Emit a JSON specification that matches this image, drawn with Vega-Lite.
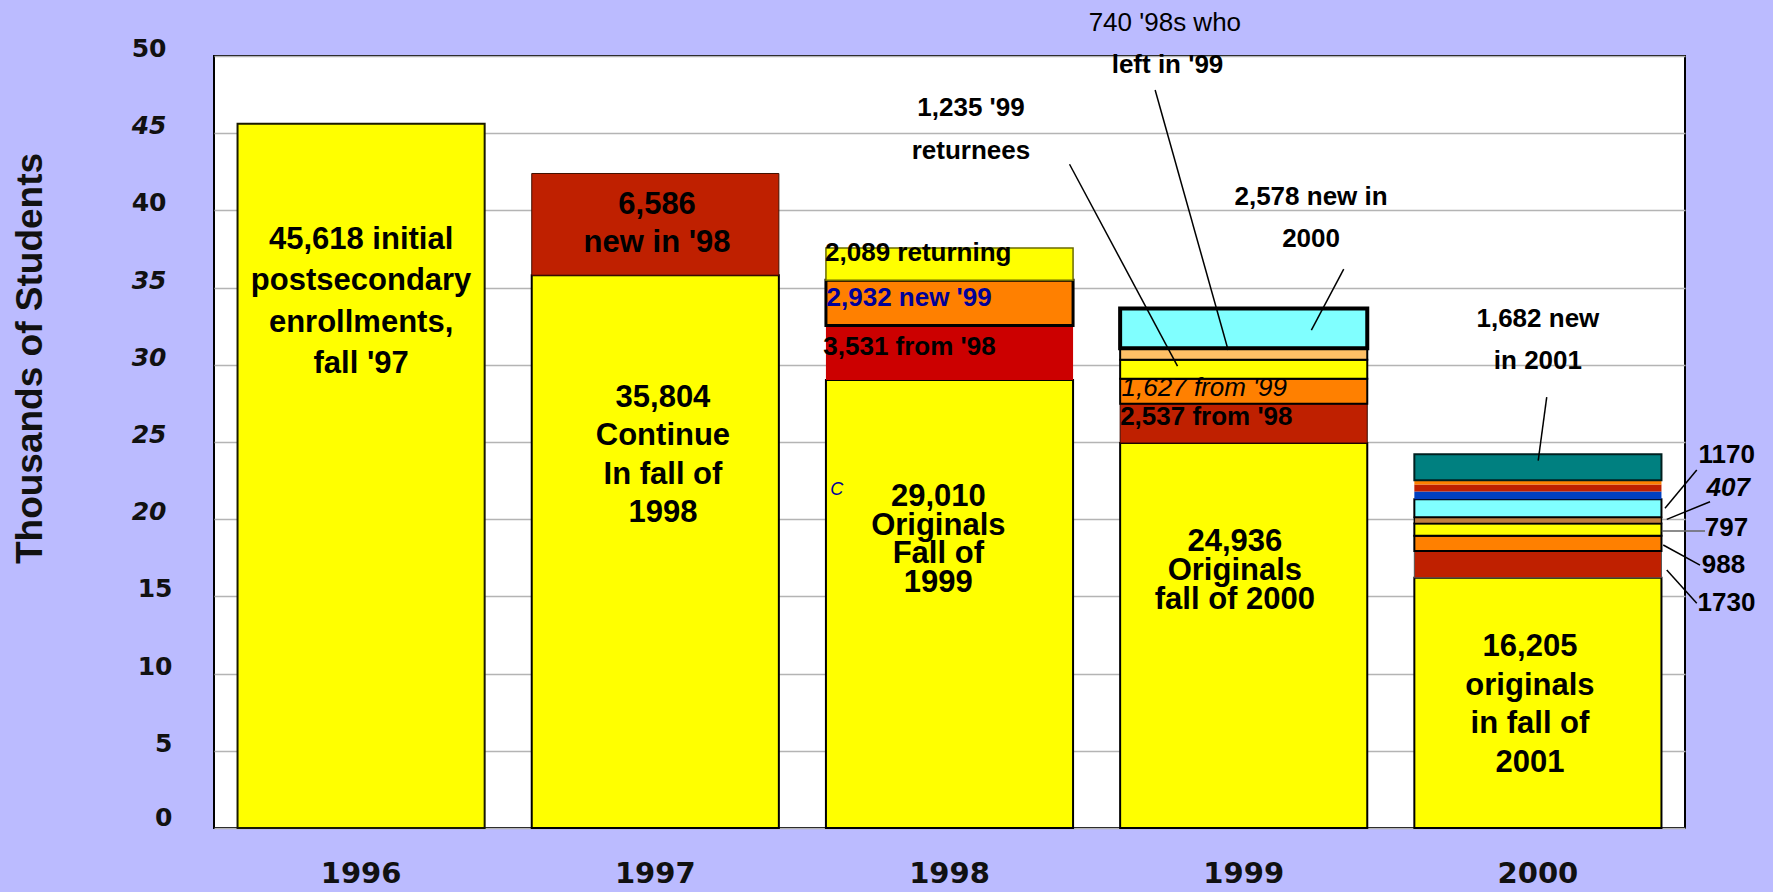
{
  "$schema": "https://vega.github.io/schema/vega-lite/v6.json",
  "width": 1471,
  "height": 772,
  "autosize": {"type": "none"},
  "padding": {"left": 214, "top": 56, "right": 88, "bottom": 64},
  "background": "#BBBBFF",
  "config": {
    "view": {"fill": "#FFFFFF", "stroke": "#000000", "strokeWidth": 2},
    "font": "Liberation Sans"
  },
  "resolve": {"scale": {"x": "independent"}, "axis": {"x": "independent", "y": "independent"}},
  "layer": [
    {
      "data": {
        "values": [
          {"year": "1996", "seq": 1, "segment": "1996: 45,618 initial enrollments", "value": 45.618},
          {"year": "1997", "seq": 1, "segment": "1997: 35,804 continuing", "value": 35.804},
          {"year": "1997", "seq": 2, "segment": "1997: 6,586 new in 1998", "value": 6.586},
          {"year": "1998", "seq": 1, "segment": "1998: 29,010 originals", "value": 29.01},
          {"year": "1998", "seq": 2, "segment": "1998: 3,531 from 1998", "value": 3.531},
          {"year": "1998", "seq": 3, "segment": "1998: 2,932 new in 1999", "value": 2.932},
          {"year": "1998", "seq": 4, "segment": "1998: 2,089 returning", "value": 2.089},
          {"year": "1999", "seq": 1, "segment": "1999: 24,936 originals", "value": 24.936},
          {"year": "1999", "seq": 2, "segment": "1999: 2,537 from 1998", "value": 2.537},
          {"year": "1999", "seq": 3, "segment": "1999: 1,627 from 1999", "value": 1.627},
          {"year": "1999", "seq": 4, "segment": "1999: 1,235 returnees of 1999", "value": 1.235},
          {"year": "1999", "seq": 5, "segment": "1999: 740 who left in 1999", "value": 0.74},
          {"year": "1999", "seq": 6, "segment": "1999: 2,578 new in 2000", "value": 2.578},
          {"year": "2000", "seq": 1, "segment": "2000: 16,205 originals", "value": 16.205},
          {"year": "2000", "seq": 2, "segment": "2000: 1,730", "value": 1.73},
          {"year": "2000", "seq": 3, "segment": "2000: 988", "value": 0.988},
          {"year": "2000", "seq": 4, "segment": "2000: 797", "value": 0.797},
          {"year": "2000", "seq": 5, "segment": "2000: 407", "value": 0.407},
          {"year": "2000", "seq": 6, "segment": "2000: 1,170", "value": 1.17},
          {"year": "2000", "seq": 7, "segment": "2000: unlabeled 1", "value": 0.5},
          {"year": "2000", "seq": 8, "segment": "2000: unlabeled 2", "value": 0.45},
          {"year": "2000", "seq": 9, "segment": "2000: unlabeled 3", "value": 0.27},
          {"year": "2000", "seq": 10, "segment": "2000: 1,682 new in 2001", "value": 1.682}
        ]
      },
      "mark": {"type": "bar"},
      "encoding": {
        "x": {
          "field": "year",
          "type": "ordinal",
          "scale": {"paddingInner": 0.16, "paddingOuter": 0.08},
          "axis": {
            "title": null,
            "labelAngle": 0,
            "labelFont": "DejaVu Sans",
            "labelFontSize": 29,
            "labelFontWeight": "bold",
            "labelColor": "#111111",
            "labelPadding": 31,
            "ticks": false,
            "tickSize": 0,
            "domain": false,
            "grid": false
          }
        },
        "y": {
          "field": "value",
          "type": "quantitative",
          "stack": "zero",
          "scale": {"domain": [0, 50], "nice": false},
          "axis": {
            "title": "Thousands of Students",
            "values": [0, 5, 10, 15, 20, 25, 30, 35, 40, 45, 50],
            "grid": true,
            "gridColor": "#B4B4B4",
            "gridWidth": 1.5,
            "domain": false,
            "ticks": false,
            "tickSize": 0,
            "labelFont": "DejaVu Sans",
            "labelFontSize": 25,
            "labelFontWeight": "bold",
            "labelColor": "#111111",
            "labelFontStyle": {"condition": {"test": "indexof([20, 25, 30, 35, 45], datum.value) >= 0", "value": "italic"}, "value": "normal"},
            "labelPadding": {"condition": {"test": "datum.value <= 15", "value": 42}, "value": 48},
            "labelOffset": {"condition": {"test": "datum.value == 0", "value": -11}, "value": -7.5},
            "labelBaseline": "middle",
            "labelFlush": false,
            "labelOverlap": false,
            "titleFont": "Liberation Sans",
            "titleFontSize": 37,
            "titleFontWeight": "bold",
            "titleColor": "#111111",
            "titleAngle": -90,
            "titleAlign": "center",
            "titleBaseline": "alphabetic",
            "titleX": -173,
            "titleY": 302
          }
        },
        "order": {"field": "seq", "type": "quantitative"},
        "fill": {
          "field": "segment",
          "type": "nominal",
          "legend": null,
          "scale": {
            "domain": ["1996: 45,618 initial enrollments", "1997: 35,804 continuing", "1997: 6,586 new in 1998", "1998: 29,010 originals", "1998: 3,531 from 1998", "1998: 2,932 new in 1999", "1998: 2,089 returning", "1999: 24,936 originals", "1999: 2,537 from 1998", "1999: 1,627 from 1999", "1999: 1,235 returnees of 1999", "1999: 740 who left in 1999", "1999: 2,578 new in 2000", "2000: 16,205 originals", "2000: 1,730", "2000: 988", "2000: 797", "2000: 407", "2000: 1,170", "2000: unlabeled 1", "2000: unlabeled 2", "2000: unlabeled 3", "2000: 1,682 new in 2001"],
            "range": ["#FFFF00", "#FFFF00", "#BF2000", "#FFFF00", "#CC0000", "#FF8000", "#FFFF00", "#FFFF00", "#BF2000", "#FF8000", "#FFFF00", "#FFC066", "#80FFFF", "#FFFF00", "#BF2000", "#FF8000", "#FFFF00", "#C08040", "#80FFFF", "#0040C0", "#BF2000", "#FF8000", "#008080"]
          }
        },
        "stroke": {
          "field": "segment",
          "type": "nominal",
          "legend": null,
          "scale": {
            "domain": ["1996: 45,618 initial enrollments", "1997: 35,804 continuing", "1997: 6,586 new in 1998", "1998: 29,010 originals", "1998: 3,531 from 1998", "1998: 2,932 new in 1999", "1998: 2,089 returning", "1999: 24,936 originals", "1999: 2,537 from 1998", "1999: 1,627 from 1999", "1999: 1,235 returnees of 1999", "1999: 740 who left in 1999", "1999: 2,578 new in 2000", "2000: 16,205 originals", "2000: 1,730", "2000: 988", "2000: 797", "2000: 407", "2000: 1,170", "2000: unlabeled 1", "2000: unlabeled 2", "2000: unlabeled 3", "2000: 1,682 new in 2001"],
            "range": ["#1A1A00", "#000000", "#401000", "#000000", "#CC0000", "#000000", "#6B6B00", "#000000", "#3A0A00", "#000000", "#000000", "#000000", "#000000", "#000000", "#555555", "#000000", "#000000", "#000000", "#000000", "#0040C0", "#BF2000", "#FF8000", "#002020"]
          }
        },
        "strokeWidth": {
          "condition": [
            {"test": "datum.segment === '1999: 2,578 new in 2000'", "value": 4},
            {"test": "datum.segment === '1998: 2,932 new in 1999'", "value": 3},
            {"test": "indexof(['1997: 6,586 new in 1998', '1999: 2,537 from 1998', '2000: 1,730'], datum.segment) >= 0", "value": 1},
            {"test": "indexof(['1998: 2,089 returning', '2000: 407'], datum.segment) >= 0", "value": 1.5},
            {"test": "indexof(['1998: 3,531 from 1998', '2000: unlabeled 1', '2000: unlabeled 2', '2000: unlabeled 3'], datum.segment) >= 0", "value": 0}
          ],
          "value": 2
        }
      }
    },
    {
      "data": {
        "values": [
          {"u1": 2.908, "v1": 42.99, "u2": 3.275, "v2": 29.92},
          {"u1": 3.199, "v1": 47.8, "u2": 3.447, "v2": 30.96},
          {"u1": 3.84, "v1": 36.19, "u2": 3.73, "v2": 32.25},
          {"u1": 4.53, "v1": 27.91, "u2": 4.501, "v2": 23.79},
          {"u1": 5.04, "v1": 23.19, "u2": 4.932, "v2": 20.71},
          {"u1": 5.085, "v1": 21.13, "u2": 4.938, "v2": 19.99},
          {"u1": 4.926, "v1": 18.33, "u2": 5.051, "v2": 17.03},
          {"u1": 4.938, "v1": 16.71, "u2": 5.04, "v2": 14.55}
        ]
      },
      "mark": {"type": "rule", "color": "#000000", "strokeWidth": 1.5},
      "encoding": {
        "x": {"field": "u1", "type": "quantitative", "scale": {"domain": [0, 5], "nice": false, "zero": false}, "axis": null},
        "x2": {"field": "u2"},
        "y": {"field": "v1", "type": "quantitative", "scale": {"domain": [0, 50], "nice": false}, "axis": null},
        "y2": {"field": "v2"}
      }
    },
    {
      "data": {"values": [{"u1": 4.921, "v1": 19.24, "u2": 5.068, "v2": 19.24}]},
      "mark": {"type": "rule", "color": "#666666", "strokeWidth": 1.5},
      "encoding": {
        "x": {"field": "u1", "type": "quantitative", "scale": {"domain": [0, 5], "nice": false, "zero": false}, "axis": null},
        "x2": {"field": "u2"},
        "y": {"field": "v1", "type": "quantitative", "scale": {"domain": [0, 50], "nice": false}, "axis": null},
        "y2": {"field": "v2"}
      }
    },
    {
      "data": {"values": [{"u": 0.5, "v": 38.1, "label": "45,618 initial\npostsecondary\nenrollments,\nfall '97"}]},
      "mark": {"type": "text", "font": "Liberation Sans", "fontSize": 31, "fontWeight": "bold", "align": "center", "baseline": "middle", "lineBreak": "\n", "lineHeight": 41.5, "color": "#000000"},
      "encoding": {
        "x": {"field": "u", "type": "quantitative", "scale": {"domain": [0, 5], "nice": false, "zero": false}, "axis": null},
        "y": {"field": "v", "type": "quantitative", "scale": {"domain": [0, 50], "nice": false}, "axis": null},
        "text": {"field": "label"}
      }
    },
    {
      "data": {
        "values": [
          {"u": 1.506, "v": 40.36, "label": "6,586\nnew in '98"},
          {"u": 1.526, "v": 27.85, "label": "35,804\nContinue\nIn fall of\n1998"},
          {"u": 4.473, "v": 11.7, "label": "16,205\noriginals\nin fall of\n2001"}
        ]
      },
      "mark": {"type": "text", "font": "Liberation Sans", "fontSize": 31, "fontWeight": "bold", "align": "center", "baseline": "middle", "lineBreak": "\n", "lineHeight": 38.5, "color": "#000000"},
      "encoding": {
        "x": {"field": "u", "type": "quantitative", "scale": {"domain": [0, 5], "nice": false, "zero": false}, "axis": null},
        "y": {"field": "v", "type": "quantitative", "scale": {"domain": [0, 50], "nice": false}, "axis": null},
        "text": {"field": "label"}
      }
    },
    {
      "data": {
        "values": [
          {"u": 2.462, "v": 21.45, "label": "29,010\nOriginals\nFall of\n1999"},
          {"u": 3.47, "v": 18.5, "label": "24,936\nOriginals\nfall of 2000"}
        ]
      },
      "mark": {"type": "text", "font": "Liberation Sans", "fontSize": 31, "fontWeight": "bold", "align": "center", "baseline": "middle", "lineBreak": "\n", "lineHeight": 28.8, "color": "#000000"},
      "encoding": {
        "x": {"field": "u", "type": "quantitative", "scale": {"domain": [0, 5], "nice": false, "zero": false}, "axis": null},
        "y": {"field": "v", "type": "quantitative", "scale": {"domain": [0, 50], "nice": false}, "axis": null},
        "text": {"field": "label"}
      }
    },
    {
      "data": {
        "values": [
          {"u": 2.573, "v": 46.61, "label": "1,235 '99\nreturnees"},
          {"u": 3.729, "v": 40.89, "label": "2,578 new in\n2000"},
          {"u": 4.5, "v": 32.97, "label": "1,682 new\nin 2001"},
          {"u": 3.241, "v": 49.42, "label": "left in '99"},
          {"u": 5.142, "v": 24.16, "label": "1170"},
          {"u": 5.141, "v": 19.43, "label": "797"},
          {"u": 5.131, "v": 17.03, "label": "988"},
          {"u": 5.141, "v": 14.57, "label": "1730"}
        ]
      },
      "mark": {"type": "text", "font": "Liberation Sans", "fontSize": 26, "fontWeight": "bold", "align": "center", "baseline": "middle", "lineBreak": "\n", "lineHeight": 42.5, "color": "#000000"},
      "encoding": {
        "x": {"field": "u", "type": "quantitative", "scale": {"domain": [0, 5], "nice": false, "zero": false}, "axis": null},
        "y": {"field": "v", "type": "quantitative", "scale": {"domain": [0, 50], "nice": false}, "axis": null},
        "text": {"field": "label"}
      }
    },
    {
      "data": {"values": [{"u": 5.147, "v": 22.02, "label": "407"}]},
      "mark": {"type": "text", "font": "Liberation Sans", "fontSize": 26, "fontWeight": "bold", "fontStyle": "italic", "align": "center", "baseline": "middle", "color": "#000000"},
      "encoding": {
        "x": {"field": "u", "type": "quantitative", "scale": {"domain": [0, 5], "nice": false, "zero": false}, "axis": null},
        "y": {"field": "v", "type": "quantitative", "scale": {"domain": [0, 50], "nice": false}, "axis": null},
        "text": {"field": "label"}
      }
    },
    {
      "data": {"values": [{"u": 3.232, "v": 52.14, "label": "740 '98s who"}]},
      "mark": {"type": "text", "font": "Liberation Sans", "fontSize": 26, "fontWeight": "normal", "align": "center", "baseline": "middle", "color": "#000000"},
      "encoding": {
        "x": {"field": "u", "type": "quantitative", "scale": {"domain": [0, 5], "nice": false, "zero": false}, "axis": null},
        "y": {"field": "v", "type": "quantitative", "scale": {"domain": [0, 50], "nice": false}, "axis": null},
        "text": {"field": "label"}
      }
    },
    {
      "data": {
        "values": [
          {"u": 2.077, "v": 37.24, "label": "2,089 returning"},
          {"u": 2.071, "v": 31.17, "label": "3,531 from '98"},
          {"u": 3.08, "v": 26.64, "label": "2,537 from '98"}
        ]
      },
      "mark": {"type": "text", "font": "Liberation Sans", "fontSize": 26, "fontWeight": "bold", "align": "left", "baseline": "middle", "color": "#000000"},
      "encoding": {
        "x": {"field": "u", "type": "quantitative", "scale": {"domain": [0, 5], "nice": false, "zero": false}, "axis": null},
        "y": {"field": "v", "type": "quantitative", "scale": {"domain": [0, 50], "nice": false}, "axis": null},
        "text": {"field": "label"}
      }
    },
    {
      "data": {"values": [{"u": 2.082, "v": 34.31, "label": "2,932 new '99"}]},
      "mark": {"type": "text", "font": "Liberation Sans", "fontSize": 26, "fontWeight": "bold", "align": "left", "baseline": "middle", "color": "#000099"},
      "encoding": {
        "x": {"field": "u", "type": "quantitative", "scale": {"domain": [0, 5], "nice": false, "zero": false}, "axis": null},
        "y": {"field": "v", "type": "quantitative", "scale": {"domain": [0, 50], "nice": false}, "axis": null},
        "text": {"field": "label"}
      }
    },
    {
      "data": {"values": [{"u": 3.085, "v": 28.5, "label": "1,627 from '99"}]},
      "mark": {"type": "text", "font": "Liberation Sans", "fontSize": 26, "fontWeight": "normal", "fontStyle": "italic", "align": "left", "baseline": "middle", "color": "#000000"},
      "encoding": {
        "x": {"field": "u", "type": "quantitative", "scale": {"domain": [0, 5], "nice": false, "zero": false}, "axis": null},
        "y": {"field": "v", "type": "quantitative", "scale": {"domain": [0, 50], "nice": false}, "axis": null},
        "text": {"field": "label"}
      }
    },
    {
      "data": {"values": [{"u": 2.117, "v": 21.89, "label": "C"}]},
      "mark": {"type": "text", "font": "Liberation Sans", "fontSize": 18, "fontWeight": "normal", "fontStyle": "italic", "align": "center", "baseline": "middle", "color": "#000099"},
      "encoding": {
        "x": {"field": "u", "type": "quantitative", "scale": {"domain": [0, 5], "nice": false, "zero": false}, "axis": null},
        "y": {"field": "v", "type": "quantitative", "scale": {"domain": [0, 50], "nice": false}, "axis": null},
        "text": {"field": "label"}
      }
    }
  ]
}
